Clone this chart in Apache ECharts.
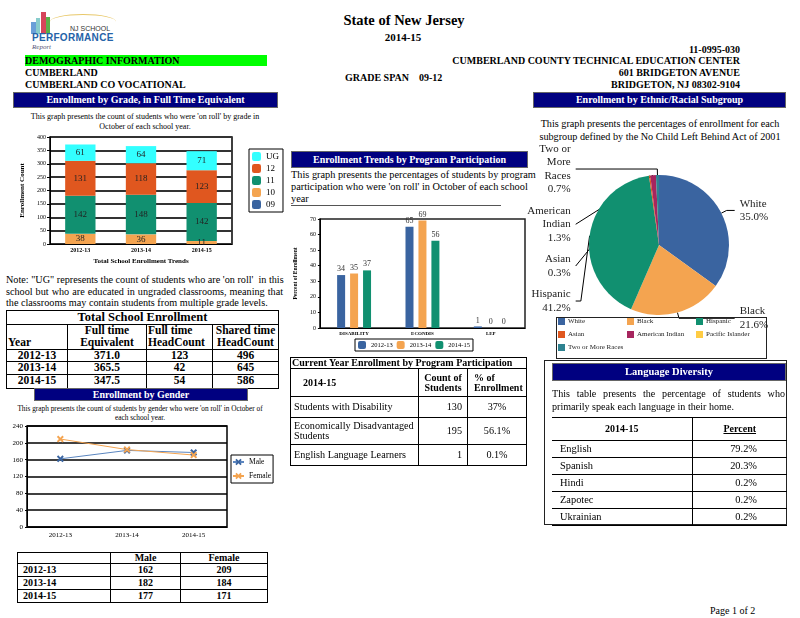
<!DOCTYPE html>
<html><head><meta charset="utf-8">
<script src="https://cdn.jsdelivr.net/npm/echarts@6/dist/echarts.min.js"></script>
<style>
body{margin:0;width:800px;height:618px;position:relative;overflow:hidden;background:#fff;font-family:"Liberation Serif","Times New Roman",serif;color:#000}
.a{position:absolute;white-space:nowrap}
.b{font-weight:bold}
.navy{position:absolute;background:#000080;color:#fff;font-weight:bold;font-size:10px;text-align:center;box-sizing:border-box;border:1px solid #666;white-space:nowrap}
table{border-collapse:collapse;position:absolute;table-layout:fixed}
td{padding:0 1px;line-height:1;overflow:hidden;white-space:nowrap}
.ch{position:absolute}
.j{text-align:justify;text-align-last:justify;white-space:nowrap}
</style></head><body>

<!-- logo -->
<div class="a" style="left:31px;top:22px;width:5px;height:12px;background:#6a9fd8"></div>
<div class="a" style="left:36px;top:18px;width:4px;height:16px;background:#8cc"></div>
<div class="a" style="left:41px;top:12px;width:5px;height:22px;background:#d6455a"></div>
<div class="a" style="left:46px;top:17px;width:4px;height:17px;background:#5bb04a"></div>
<div class="a" style="left:50px;top:14px;width:66px;height:14px;border-top:1.5px solid #e8c86a;border-radius:60% 60% 0 0"></div>
<div class="a" style="left:70px;top:25px;font-family:'Liberation Sans',sans-serif;font-size:7px;color:#333">NJ SCHOOL</div>
<div class="a" style="left:32px;top:32px;font-family:'Liberation Sans',sans-serif;font-size:10px;font-weight:bold;color:#2563a8;letter-spacing:0.3px">PERFORMANCE</div>
<div class="a" style="left:32px;top:43px;font-size:7px;font-style:italic;color:#557">Report</div>

<div class="a b" style="left:0;width:800px;text-align:center;top:12px;font-size:14.5px;padding-left:8px;box-sizing:border-box">State of New Jersey</div>
<div class="a b" style="left:0;width:806px;text-align:center;top:31px;font-size:11px">2014-15</div>
<div class="a b" style="right:60px;top:44px;font-size:10px;text-align:right">11-0995-030</div>
<div class="a b" style="left:25px;top:55px;width:242px;height:11px;background:#00ff00;font-size:10px;line-height:11px">DEMOGRAPHIC INFORMATION</div>
<div class="a b" style="right:60px;top:55px;font-size:10px;text-align:right">CUMBERLAND COUNTY TECHNICAL EDUCATION CENTER</div>
<div class="a b" style="left:25px;top:67px;font-size:10px">CUMBERLAND</div>
<div class="a b" style="right:60px;top:67px;font-size:10px;text-align:right">601 BRIDGETON AVENUE</div>
<div class="a b" style="left:345px;top:72px;font-size:10px">GRADE SPAN&nbsp;&nbsp;&nbsp;&nbsp;09-12</div>
<div class="a b" style="left:25px;top:79px;font-size:10px">CUMBERLAND CO VOCATIONAL</div>
<div class="a b" style="right:60px;top:79px;font-size:10px;text-align:right">BRIDGETON, NJ 08302-9104</div>

<div class="navy" style="left:13px;top:92px;width:265px;height:16px;line-height:14px">Enrollment by Grade, in Full Time Equivalent</div>
<div class="navy" style="left:533px;top:92px;width:253px;height:16px;line-height:14px">Enrollment by Ethnic/Racial Subgroup</div>

<div class="a" style="left:0;width:290px;text-align:center;top:112px;font-size:8px;line-height:9.5px">This graph presents the count of students who were 'on roll' by grade in<br>October of each school year.</div>
<div id="c1" class="ch" style="left:0;top:130px;width:290px;height:140px"></div>

<div class="a" style="left:6px;top:274px;width:277px;font-size:10.2px;line-height:11.6px">
<div class="j">Note: "UG" represents the count of students who are 'on roll'&nbsp; in this</div>
<div class="j">school but who are educated in ungraded classrooms, meaning that</div>
<div>the classrooms may contain students from multiple grade levels.</div>
</div>

<table id="tEnroll" style="left:6px;top:310px;width:272px"></table>

<div class="navy" style="left:34px;top:388px;width:214px;height:13px;line-height:12px">Enrollment by Gender</div>
<div class="a" style="left:0;width:280px;text-align:center;top:404px;font-size:7.3px;line-height:9px">This graph presents the count of students by gender who were 'on roll' in October of<br>each school year.</div>
<div id="c4" class="ch" style="left:0;top:410px;width:290px;height:135px"></div>
<table id="tGender" style="left:17px;top:552px;width:250px"></table>

<!-- middle -->
<div class="navy" style="left:291px;top:151px;width:237px;height:17px;line-height:15px">Enrollment Trends by Program Participation</div>
<div class="a" style="left:291px;top:169px;font-size:10.3px;line-height:12px">This graph presents the percentages of students by program<br>participation who were 'on roll' in October of each school<br>year</div>
<div class="a" style="left:291px;top:205px;width:210px;height:0;border-top:1px solid #555"></div>
<div id="c2" class="ch" style="left:285px;top:210px;width:245px;height:148px"></div>
<table id="tProg" style="left:290px;top:357px;width:236px"></table>

<!-- right -->
<div class="a" style="left:530px;width:260px;text-align:center;top:118px;font-size:10.2px;line-height:12.5px">This graph presents the percentages of enrollment for each<br>subgroup defined by the No Child Left Behind Act of 2001</div>
<div id="c3" class="ch" style="left:520px;top:110px;width:268px;height:250px"></div>
<div class="a" style="left:556px;top:317px;width:209px;height:40px;border:1px solid #222"></div>

<div class="a" style="left:544px;top:360px;width:243px;height:165px;border:1px solid #222;box-sizing:border-box"></div>
<div class="navy" style="left:552px;top:363px;width:234px;height:18px;line-height:16px;font-size:10.5px">Language Diversity</div>
<div class="a" style="left:552px;top:387px;width:233px;font-size:10.1px;line-height:13px">
<div class="j">This table presents the percentage of students who</div>
<div>primarily speak each language in their home.</div>
</div>
<table id="tLang" style="left:552px;top:417px;width:235px"></table>

<div class="a" style="left:710px;top:605px;font-size:10px">Page 1 of 2</div>

<script>
// ---------- data ----------
const gradeYears = ['2012-13','2013-14','2014-15'];
const gradeNames = ['09','10','11','12','UG'];
const grade09 = [0, 0, 0];
const grade10 = [38, 36, 11];
const grade11 = [142, 148, 142];
const grade12 = [131, 118, 123];
const gradeUG = [61, 64, 71];

const enrollFTE = ['371.0', '365.5', '347.5'];
const enrollFTHead = [123, 42, 54];
const enrollSharedHead = [496, 645, 586];

const progCats = ['DISABILITY', 'ECONDIS', 'LEP'];
const prog2012 = [34, 65, 1];
const prog2013 = [35, 69, 0];
const prog2014 = [37, 56, 0];

const progRows = ['Students with Disability', 'Economically Disadvantaged\nStudents', 'English Language Learners'];
const progCounts = [130, 195, 1];
const progPct = ['37%', '56.1%', '0.1%'];

const ethNames = ['White', 'Black', 'Hispanic', 'Asian', 'American Indian', 'Pacific Islander', 'Two or More Races'];
const ethLabels = ['White', 'Black', 'Hispanic', 'Asian', 'American\nIndian', 'Pacific Islander', 'Two or\nMore\nRaces'];
const ethValues = [35.0, 21.6, 41.2, 0.3, 1.3, 0, 0.7];

const genderMale = [162, 182, 177];
const genderFemale = [209, 184, 171];

const langNames = ['English', 'Spanish', 'Hindi', 'Zapotec', 'Ukrainian'];
const langPct = ['79.2%', '20.3%', '0.2%', '0.2%', '0.2%'];

// ---------- styles ----------
const F = 'Liberation Serif';
const gradeColors = {'09':'#3A64A0','10':'#F4A450','11':'#119070','12':'#E0571F','UG':'#33FFFF'};
const yearColors = ['#3A64A0', '#F4A450', '#119070'];
const ethColors = ['#3A64A0', '#F4A450', '#119070', '#E0571F', '#A6255E', '#FFCC44', '#2E8290'];
const XSYM = 'path://M0,2L2,0L5,3L8,0L10,2L7,5L10,8L8,10L5,7L2,10L0,8L3,5Z';

// ---------- tables ----------
const B = 'border:1.5px solid #000;';
let h = '<colgroup><col style="width:61px"><col style="width:79px"><col style="width:66px"><col style="width:66px"></colgroup>';
h += `<tr style="height:12px"><td colspan="4" style="${B}text-align:center;font-weight:bold;font-size:12.5px">Total School Enrollment</td></tr>`;
h += `<tr style="height:25px;font-weight:bold;font-size:11.5px"><td style="${B}vertical-align:bottom">Year</td><td style="${B}text-align:center">Full time<br>Equivalent</td><td style="${B}">Full time<br>HeadCount</td><td style="${B}text-align:center">Shared time<br>HeadCount</td></tr>`;
gradeYears.forEach((y,i)=>{
  h += `<tr style="height:${i==2?14:12.5}px;font-weight:bold;font-size:11.5px"><td style="${B}text-align:center">${y}</td><td style="${B}text-align:center">${enrollFTE[i]}</td><td style="${B}text-align:center">${enrollFTHead[i]}</td><td style="${B}text-align:center">${enrollSharedHead[i]}</td></tr>`;
});
document.getElementById('tEnroll').innerHTML = h;

h = '<colgroup><col style="width:93px"><col style="width:70px"><col style="width:87px"></colgroup>';
h += `<tr style="height:11px;font-weight:bold;font-size:10px"><td style="${B}"></td><td style="${B}text-align:center">Male</td><td style="${B}text-align:center">Female</td></tr>`;
gradeYears.forEach((y,i)=>{
  h += `<tr style="height:13px;font-weight:bold;font-size:10px"><td style="${B}padding-left:5px">${y}</td><td style="${B}text-align:center">${genderMale[i]}</td><td style="${B}text-align:center">${genderFemale[i]}</td></tr>`;
});
document.getElementById('tGender').innerHTML = h;

const PB = 'border:1px solid #000;';
h = '<colgroup><col style="width:128px"><col style="width:49px"><col style="width:59px"></colgroup>';
h += `<tr style="height:11px"><td colspan="3" style="border:1.5px solid #000;font-weight:bold;font-size:10px">Current Year Enrollment by Program Participation</td></tr>`;
h += `<tr style="height:28px;font-weight:bold;font-size:10px"><td style="${PB}padding-left:12px">2014-15</td><td style="${PB}text-align:center">Count of<br>Students</td><td style="${PB}padding-left:6px">% of<br>Enrollment</td></tr>`;
const progH = [21, 27, 21];
progRows.forEach((r,i)=>{
  h += `<tr style="height:${progH[i]}px;font-size:10.2px"><td style="${PB}padding-left:3px">${r.replace('\n','<br>')}</td><td style="${PB}text-align:right;padding-right:5px">${progCounts[i]}</td><td style="${PB}text-align:center">${progPct[i]}</td></tr>`;
});
document.getElementById('tProg').innerHTML = h;

h = '<colgroup><col style="width:140px"><col style="width:95px"></colgroup>';
h += `<tr style="height:23px;font-weight:bold;font-size:10px;border-top:1px solid #000;border-bottom:1px solid #000"><td style="text-align:center">2014-15</td><td style="border-left:1px solid #000;text-align:center"><u>Percent</u></td></tr>`;
langNames.forEach((n,i)=>{
  h += `<tr style="height:17px;font-size:10.4px;border-bottom:1px solid #000"><td style="padding-left:8px">${n}</td><td style="border-left:1px solid #000;text-align:right;padding-right:30px">${langPct[i]}</td></tr>`;
});
document.getElementById('tLang').innerHTML = h;

// ---------- chart 1: stacked grade ----------
const gradeData = {'09':grade09,'10':grade10,'11':grade11,'12':grade12,'UG':gradeUG};
const c1 = echarts.init(document.getElementById('c1'));
c1.setOption({
  animation:false,
  textStyle:{fontFamily:F},
  grid:{left:50,top:7,width:182,height:107,show:true,borderColor:'#000',borderWidth:1.5},
  legend:{orient:'vertical',left:249,top:19,itemWidth:9,itemHeight:9,itemGap:3,borderColor:'#000',borderWidth:1,padding:[3,4,3,3],
    textStyle:{fontSize:9,fontFamily:F,color:'#000'},data:['UG','12','11','10','09']},
  xAxis:{type:'category',data:gradeYears,axisLine:{lineStyle:{color:'#000'}},axisTick:{show:false},
    axisLabel:{fontSize:6,fontWeight:'bold',color:'#000',margin:3,fontFamily:F},
    name:'Total School Enrollment Trends',nameLocation:'middle',nameGap:12,nameTextStyle:{fontSize:7,fontWeight:'bold',color:'#000',fontFamily:F}},
  yAxis:{type:'value',min:0,max:400,interval:50,axisLine:{show:true,lineStyle:{color:'#000'}},axisTick:{show:true,length:3,lineStyle:{color:'#000'}},
    axisLabel:{fontSize:6,color:'#000',margin:4,fontFamily:F},splitLine:{lineStyle:{color:'#333',width:2}},
    name:'Enrollment Count',nameLocation:'middle',nameGap:17,nameTextStyle:{fontSize:7,fontWeight:'bold',color:'#000',fontFamily:F}},
  series:gradeNames.map(g=>({name:g,type:'bar',stack:'grade',barWidth:'50%',data:gradeData[g],
    itemStyle:{color:gradeColors[g]},
    label:{show:true,fontSize:9,color:'#222',fontFamily:F,formatter:p=>p.value>0?String(p.value):''}}))
});

// ---------- chart 2: program participation ----------
const c2 = echarts.init(document.getElementById('c2'));
const progSeries = [['2012-13',prog2012],['2013-14',prog2013],['2014-15',prog2014]];
c2.setOption({
  animation:false,
  textStyle:{fontFamily:F},
  grid:{left:22,top:9,width:218,height:109,show:true,borderColor:'#222',borderWidth:1.5},
  legend:{left:70,top:129,itemWidth:8,itemHeight:8,itemGap:4,borderColor:'#000',borderWidth:1,padding:[2,3,2,3],
    textStyle:{fontSize:6.5,fontFamily:F,color:'#000'}},
  xAxis:{type:'category',data:progCats,axisLine:{lineStyle:{color:'#000'}},axisTick:{show:false},
    axisLabel:{fontSize:5,fontWeight:'bold',color:'#000',margin:3,fontFamily:F}},
  yAxis:{type:'value',min:0,max:70,interval:10,axisLine:{show:true,lineStyle:{color:'#000'}},axisTick:{show:true,length:2,lineStyle:{color:'#000'}},
    axisLabel:{fontSize:6,color:'#000',margin:4,fontFamily:F},splitLine:{show:false},
    name:'Percent of Enrollment',nameLocation:'middle',nameGap:13,nameTextStyle:{fontSize:5.5,fontWeight:'bold',color:'#000',fontFamily:F}},
  series:progSeries.map((s,i)=>({name:s[0],type:'bar',barWidth:8,barGap:'62%',data:s[1],itemStyle:{color:yearColors[i]},
    label:{show:true,position:'top',distance:2,fontSize:8,color:'#333',fontFamily:F}}))
});

// ---------- chart 3: ethnic pie ----------
const c3 = echarts.init(document.getElementById('c3'));
const legendCols = [[0,3,6],[1,4],[2,5]];
const legendLeft = [38,107,176];
c3.setOption({
  animation:false,
  textStyle:{fontFamily:F},
  legend:legendCols.map((col,k)=>({orient:'vertical',left:legendLeft[k],top:208,itemWidth:7,itemHeight:7,itemGap:6,
    icon:'rect',padding:0,textStyle:{fontSize:7,fontFamily:F,color:'#222',padding:[0,0,0,-2]},data:col.map(i=>ethNames[i])})),
  series:[{type:'pie',center:[139,135],radius:70,startAngle:90,clockwise:true,
    avoidLabelOverlap:true,
    data:ethNames.map((n,i)=>({name:n,value:ethValues[i],itemStyle:{color:ethColors[i]},
      label:{show:ethValues[i]>0},labelLine:{show:ethValues[i]>0}})),
    label:{fontSize:11,lineHeight:13.5,color:'#222',fontFamily:F,alignTo:'labelLine',overflow:'none',padding:[3,0],
      formatter:p=>ethLabels[p.dataIndex]+'\n'+p.value.toFixed(1)+'%'},
    labelLine:{length:6,length2:8,lineStyle:{color:'#000',width:1}}
  }]
});

// ---------- chart 4: gender line ----------
const c4 = echarts.init(document.getElementById('c4'));
c4.setOption({
  animation:false,
  textStyle:{fontFamily:F},
  grid:{left:27,top:16,width:200,height:101,show:true,borderColor:'#000',borderWidth:1.5},
  legend:{orient:'vertical',left:231,top:45,itemWidth:11,itemHeight:8,itemGap:6,borderColor:'#000',borderWidth:1,padding:[3,2,3,1],
    textStyle:{fontSize:7.5,fontFamily:F,color:'#000'}},
  xAxis:{type:'category',data:gradeYears,axisLine:{lineStyle:{color:'#000'}},axisTick:{show:false},
    axisLabel:{fontSize:7,color:'#000',margin:5,fontFamily:F}},
  yAxis:{type:'value',min:0,max:240,interval:40,axisLine:{show:true,lineStyle:{color:'#000'}},axisTick:{show:true,length:2,lineStyle:{color:'#000'}},
    axisLabel:{fontSize:7,color:'#000',margin:4,fontFamily:F},splitLine:{lineStyle:{color:'#000',width:1.5}}},
  series:[
    {name:'Male',type:'line',data:genderMale,symbol:XSYM,symbolSize:7,itemStyle:{color:'#3A64A0'},lineStyle:{width:1,color:'#5b86c0'}},
    {name:'Female',type:'line',data:genderFemale,symbol:XSYM,symbolSize:7,itemStyle:{color:'#F4A450'},lineStyle:{width:1,color:'#F4A450'}}
  ]
});
</script>
</body></html>
